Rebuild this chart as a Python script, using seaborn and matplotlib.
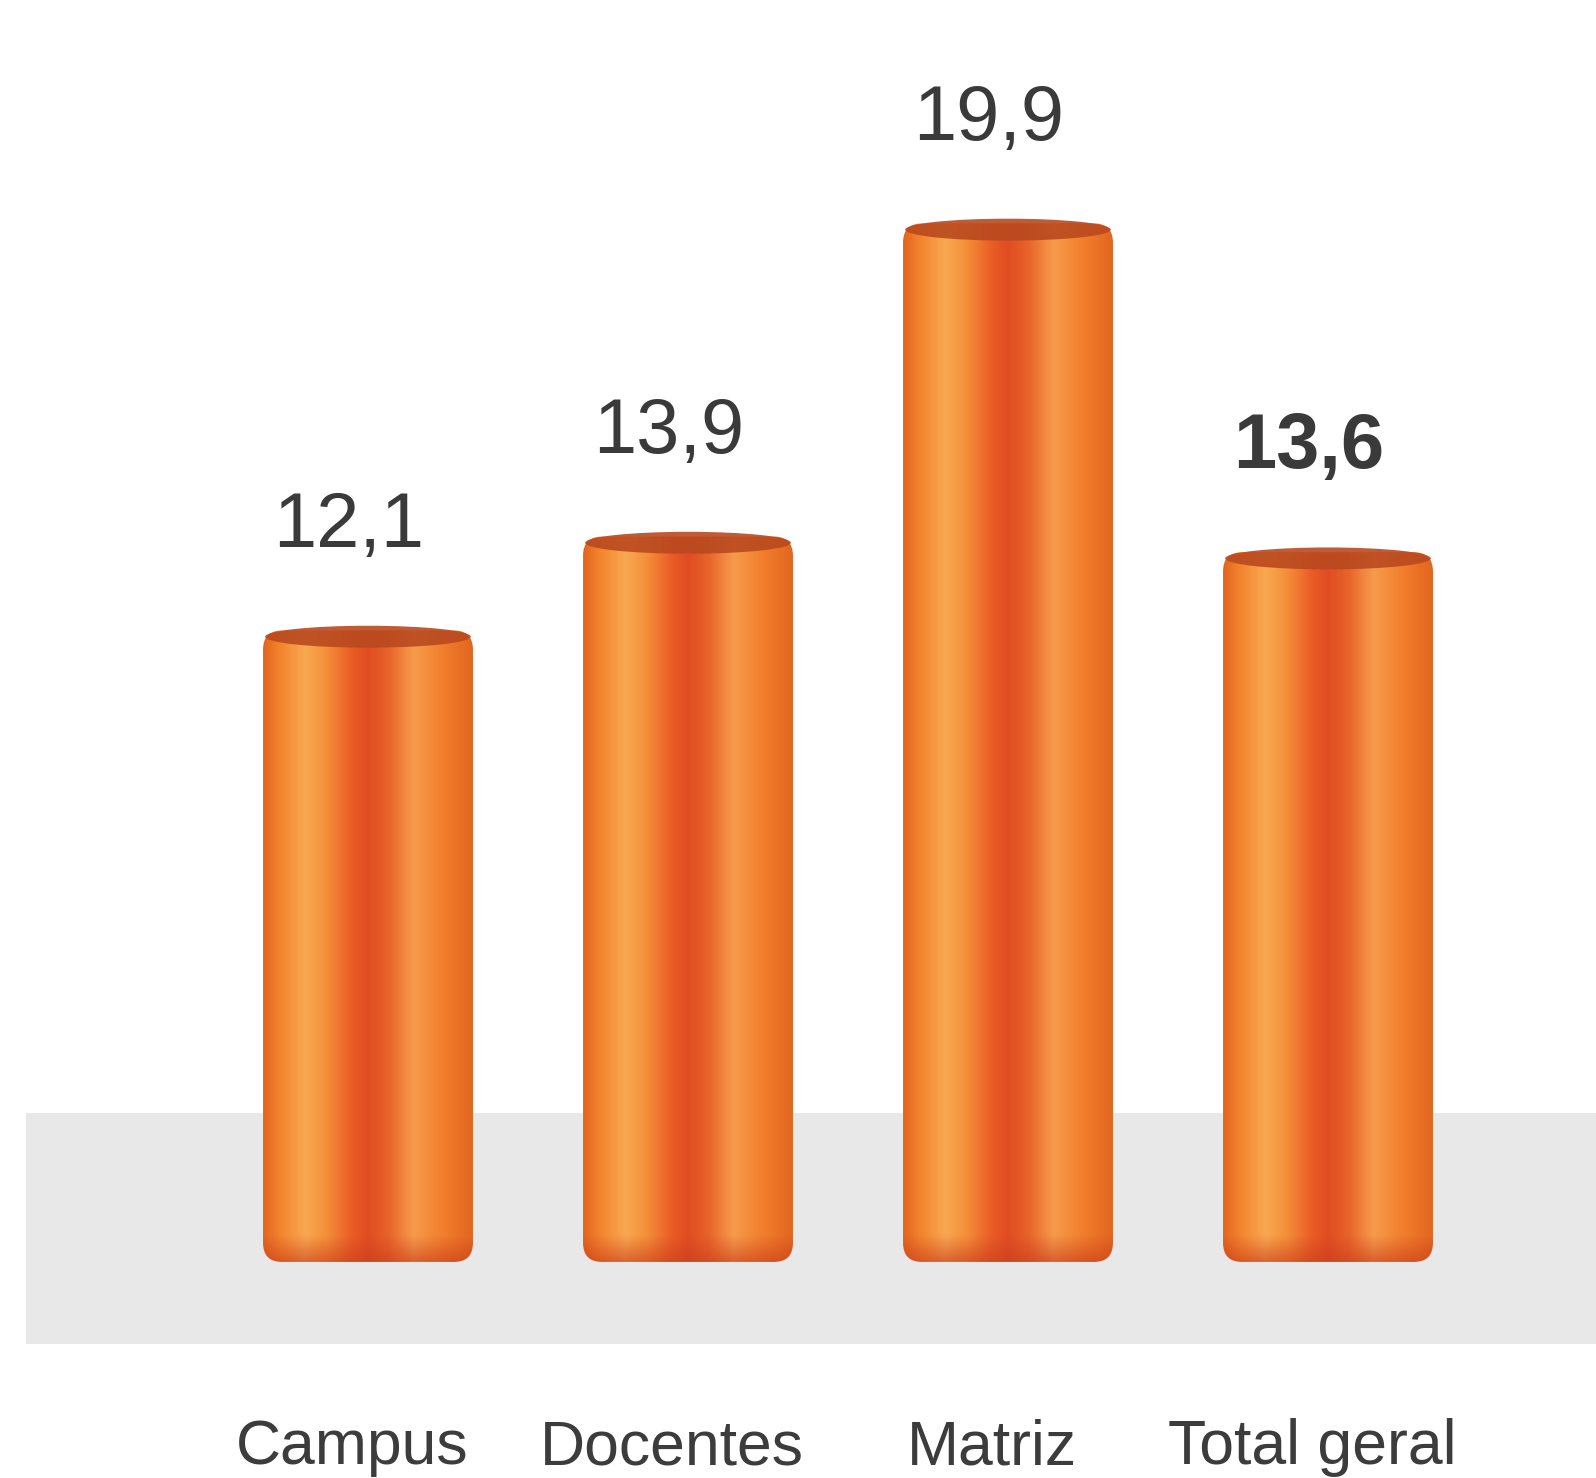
import numpy as np
import pandas as pd
import seaborn as sns
import matplotlib.pyplot as plt
from matplotlib.colors import to_rgb
from matplotlib.patches import FancyBboxPatch, Ellipse, Rectangle

categorias = ['Campus', 'Docentes', 'Matriz', 'Total geral']
valores = [12.1, 13.9, 19.9, 13.6]
rotulos = ['12,1', '13,9', '19,9', '13,6']
negrito = [False, False, False, True]

sns.set_theme(style='white')
plt.rcParams['font.family'] = ['Liberation Sans', 'DejaVu Sans']

fig = plt.figure(figsize=(15.96, 14.78), dpi=100)
ax = fig.add_axes([0, 0, 1, 1])

df = pd.DataFrame({'categoria': categorias, 'valor': valores})
sns.barplot(data=df, x='categoria', y='valor', color='#ee6a22', width=0.656, ax=ax, zorder=3)

ax.set_xlim(-1.15, 3.8375)
ax.set_ylim(-4.14, 24.18)
ax.axis('off')

# faixa cinza do fundo
ax.add_patch(Rectangle((-1.07, -1.57), 5.0, 4.42, facecolor='#e8e8e8', edgecolor='none', zorder=1))

# gradiente horizontal do cilindro
paradas = [(0.0, '#e3651e'), (0.08, '#f3842e'), (0.2, '#f9a852'), (0.3, '#f5903a'),
           (0.42, '#ea5e26'), (0.5, '#e04c22'), (0.6, '#e8642a'), (0.72, '#f69c4c'),
           (0.85, '#f2802e'), (1.0, '#e2661e')]
xs = np.linspace(0, 1, 200)
cols = np.array([[np.interp(t, [p[0] for p in paradas], [to_rgb(p[1])[k] for p in paradas])
                  for k in range(3)] for t in xs])
base = np.array(to_rgb('#c83c1c'))

asp = (1596 / 4.9875) / (1478 / 28.32)

for i, barra in enumerate(ax.patches[:len(valores)]):
    x0 = barra.get_x()
    w = barra.get_width()
    h = barra.get_height()
    barra.set_alpha(0)

    n = 300
    img = np.repeat(cols[None, :, :], n, axis=0)
    ys = np.linspace(h, 0, n)
    mistura = np.where(ys < 0.5, 0.6 * (1 - ys / 0.5), 0.0)
    img = img * (1 - mistura[:, None, None]) + base * mistura[:, None, None]

    forma = FancyBboxPatch((x0, 0), w, h, boxstyle='round,pad=0,rounding_size=0.06',
                           mutation_aspect=asp, facecolor='none', edgecolor='none', zorder=3)
    ax.add_patch(forma)
    im = ax.imshow(img, extent=(x0, x0 + w, 0, h), aspect='auto', zorder=3, interpolation='bilinear')
    im.set_clip_path(forma)

    ax.add_patch(Ellipse((x0 + w / 2, h - 0.12), w * 0.98, 0.42, facecolor='#b9491f',
                         edgecolor='none', alpha=0.9, zorder=4))

    cx = x0 + w / 2
    ax.text(cx - 0.06, h + 1.3, rotulos[i], ha='center', va='bottom', fontsize=56,
            color='#3a3a3a', fontweight='bold' if negrito[i] else 'normal', zorder=5)
    ax.text(cx - 0.05, -3.88, categorias[i], ha='center', va='baseline', fontsize=45,
            color='#3c3c3c', zorder=5)

fig.savefig('out.png', dpi=100)
